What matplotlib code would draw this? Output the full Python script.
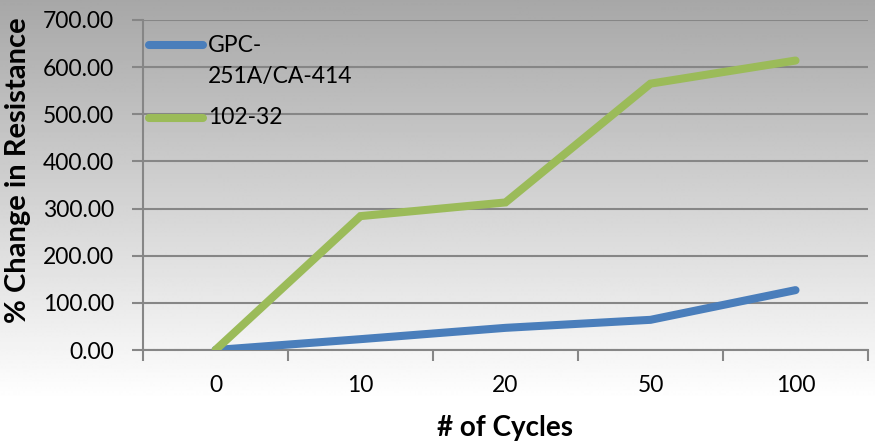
import numpy as np
import matplotlib
matplotlib.use("Agg")
import matplotlib.pyplot as plt
from matplotlib.lines import Line2D

plt.rcParams['font.family'] = ['Lato', 'DejaVu Sans']

# Data
cycles = ["0", "10", "20", "50", "100"]
series_names = ["GPC-\n251A/CA-414", "102-32"]
gpc_251a = [0.0, 23.0, 47.0, 64.0, 127.0]
r102_32 = [0.0, 284.0, 313.0, 565.0, 614.0]
series_colors = ["#4a7ebb", "#9bbb59"]
y_ticks = [0, 100, 200, 300, 400, 500, 600, 700]

W, H = 875, 448
fig = plt.figure(figsize=(W / 100, H / 100), dpi=100)

# Vertical grey-to-white background gradient
bg = fig.add_axes([0, 0, 1, 1], zorder=-10)
rows = np.arange(H)
shade = np.clip(0.655 + 0.345 * rows / 400.0, 0, 1)
grad = np.repeat(shade[:, None], 2, axis=1)
bg.imshow(grad, cmap="gray", vmin=0, vmax=1, aspect="auto",
          extent=[0, 1, 0, 1], origin="upper")
bg.set_axis_off()

left, right, top, bottom = 143, 868, 20, 350
ax = fig.add_axes([left / W, 1 - bottom / H, (right - left) / W, (bottom - top) / H])
ax.patch.set_alpha(0)

x = np.arange(len(cycles))
ax.plot(x, gpc_251a, color=series_colors[0], lw=5.8, solid_capstyle="round",
        solid_joinstyle="miter", zorder=3)
ax.plot(x, r102_32, color=series_colors[1], lw=5.8, solid_capstyle="round",
        solid_joinstyle="miter", zorder=4)

ax.set_xlim(-0.5, len(cycles) - 0.5)
ax.set_ylim(0, 700)

tick_fs = 16.5
grid_c = "#868686"
ax.set_yticks(y_ticks)
ax.set_yticklabels([f"{v:.2f}" for v in y_ticks])
ax.yaxis.grid(True, color=grid_c, lw=1.5)
ax.set_axisbelow(True)

ax.set_xticks(x)
ax.set_xticklabels(cycles)
ax.set_xticks(np.arange(-0.5, len(cycles)), minor=True)
ax.tick_params(axis="x", which="major", length=0, pad=18, labelsize=tick_fs)
ax.tick_params(axis="x", which="minor", length=8, width=1.5, color=grid_c, direction="out")
ax.tick_params(axis="y", length=8, width=1.5, color=grid_c, pad=13, labelsize=tick_fs)

for s in ["top", "right"]:
    ax.spines[s].set_visible(False)
for s in ["left", "bottom"]:
    ax.spines[s].set_color(grid_c)
    ax.spines[s].set_linewidth(1.5)

fig.text(18 / W, 1 - 170 / H, "% Change in Resistance", rotation=90,
         ha="center", va="center", fontsize=21, fontweight="bold")
fig.text(505 / W, 1 - 428 / H, "# of Cycles", ha="center", va="center",
         fontsize=20, fontweight="bold")

# Legend drawn in the upper-left of the plot area
text_x = (208 - left) / (right - left)
leg_y = [45, 118]
for name, col, yy in zip(series_names, series_colors, leg_y):
    yf = (bottom - yy) / (bottom - top)
    ax.add_line(Line2D([(149 - left) / (right - left), (203 - left) / (right - left)],
                       [yf, yf], transform=ax.transAxes, color=col, lw=5.8,
                       solid_capstyle="round", clip_on=False, zorder=5))
    for i, part in enumerate(name.split("\n")):
        ax.text(text_x, (bottom - (yy + 31 * i)) / (bottom - top), part,
                transform=ax.transAxes, ha="left", va="center",
                fontsize=tick_fs, zorder=5)

fig.savefig("out.png", dpi=100)
